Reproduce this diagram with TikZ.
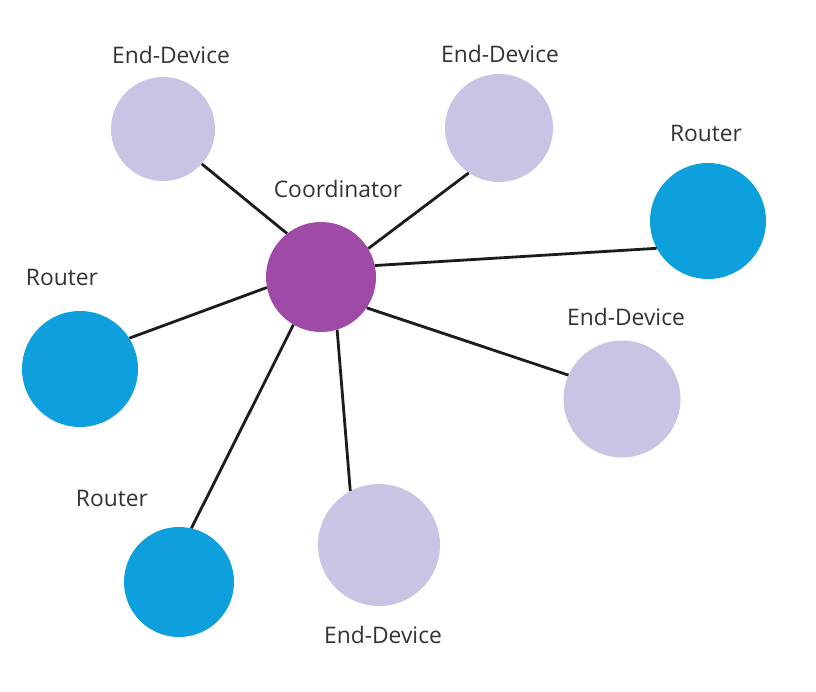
\documentclass[tikz,border=0pt]{standalone}
\usepackage{fontspec}
\setmainfont{Open Sans}
\definecolor{coordc}{HTML}{A04AA8}
\definecolor{routerc}{HTML}{0E9FDD}
\definecolor{endc}{HTML}{C9C3E4}
\definecolor{linec}{HTML}{1C1C1C}
\definecolor{textc}{HTML}{333333}
\begin{document}
\begin{tikzpicture}[x=1pt,y=-1pt,
  coordnode/.style={circle,fill=coordc,inner sep=0pt,minimum size=110pt},
  routernode/.style={circle,fill=routerc,inner sep=0pt},
  endnode/.style={circle,fill=endc,inner sep=0pt},
  lbl/.style={text=textc,font=\fontsize{22.8}{25}\selectfont},
  link/.style={draw=linec,line width=2.8pt}]
\useasboundingbox[fill=white] (0,0) rectangle (816,692);
\node[coordnode] (c) at (321,277) {};
\node[endnode,minimum size=104pt] (e1) at (163,129) {};
\node[endnode,minimum size=108pt] (e2) at (499,128) {};
\node[routernode,minimum size=116pt] (r1) at (708,221) {};
\node[routernode,minimum size=116pt] (r2) at (80,369) {};
\node[endnode,minimum size=117pt] (e3) at (622,399) {};
\node[endnode,minimum size=122pt] (e4) at (379,545) {};
\node[routernode,minimum size=110pt] (r3) at (179,582) {};
\node[lbl] (le1) at (171,55) {End-Device};
\node[lbl] (le2) at (500,54) {End-Device};
\node[lbl] (lr1) at (706,133) {Router};
\node[lbl] (lc) at (338,189) {Coordinator};
\node[lbl] (lr2) at (62,277) {Router};
\node[lbl] (le3) at (626,317) {End-Device};
\node[lbl] (lr3) at (112,498) {Router};
\node[lbl] (le4) at (383,635) {End-Device};
\draw[link] (c.128) -- (e1.-42);
\draw[link] (c.31) -- (e2.236);
\draw[link] (c.12) -- (r1.208);
\draw[link] (c.191) -- (r2.32);
\draw[link] (c.-34) -- (e3.156);
\draw[link] (c.-73) -- (e4.118);
\draw[link] (c.240) -- (r3.77);
\end{tikzpicture}
\end{document}
